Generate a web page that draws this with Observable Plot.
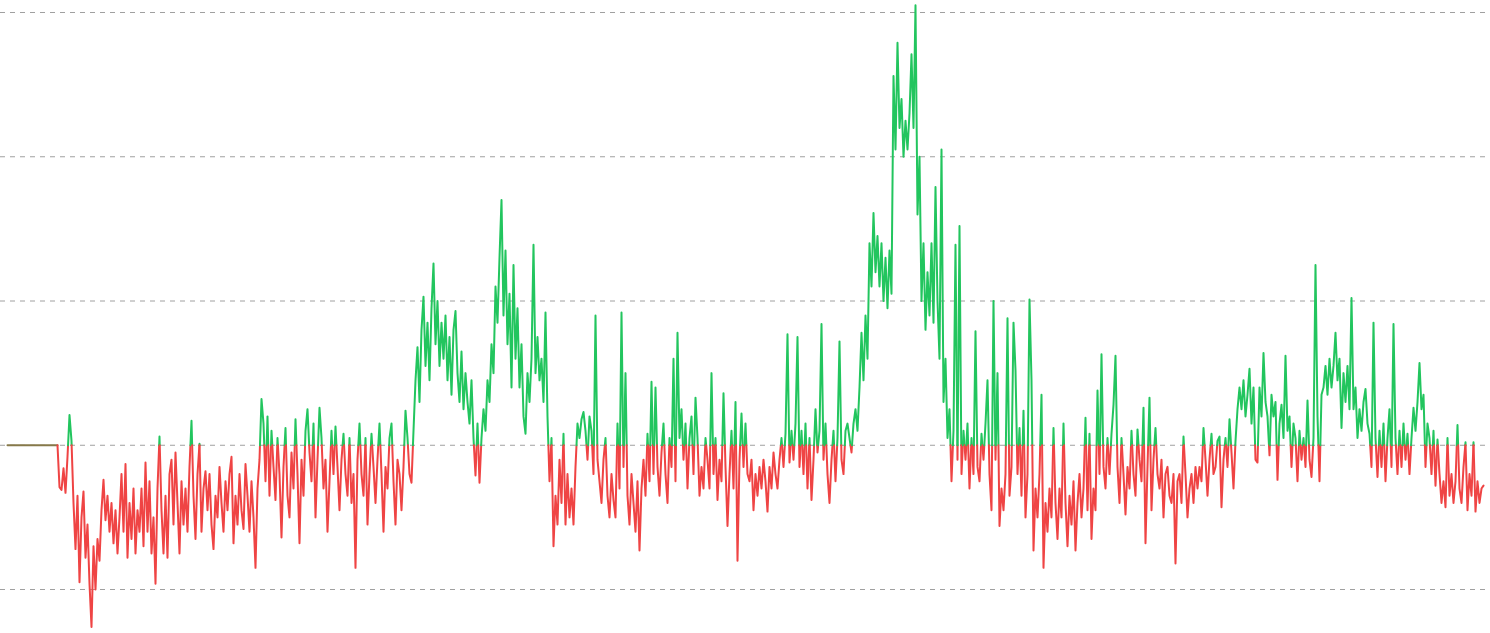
<!DOCTYPE html>
<html>
<head>
<meta charset="utf-8">
<script src="https://cdn.jsdelivr.net/npm/d3@7"></script>
<script src="https://cdn.jsdelivr.net/npm/@observablehq/plot@0.6"></script>
<style>
  html, body { margin: 0; padding: 0; background: #ffffff; }
  #chart svg { display: block; }
</style>
</head>
<body>
<div id="chart"></div>
<script>
// Series values (deviation from the zero baseline; grid step = 10)
const values = [
  // flat start
  0, 0, 0, 0, 0, 0, 0, 0, 0, 0, 0, 0, 0, 0, 0, 0, 0, 0, 0, 0, 0, 0, 0, 0, 0, 0,
  // 59 ..
  -2.9, -3.1, -1.6, -3.3, -0.8, 2.1, 0.3, -4.0, -7.2, -3.5,
  -9.5, -5.0, -3.2, -7.8, -5.5, -9.6, -12.6, -7.0, -10.0, -6.5,
  -8.0, -4.5, -2.4, -5.2, -3.5, -6.0, -4.0, -6.8, -4.5, -7.5,
  -5.0, -2.0, -6.0, -1.3, -7.8, -4.0, -6.5, -3.0, -7.5, -4.5,
  -6.0, -3.0, -7.0, -1.2, -6.0, -2.5, -7.5, -5.0, -9.6, -3.0,
  0.6, -4.5, -7.5, -3.5, -7.8, -2.0, -1.0, -5.5, -0.5, -4.0,
  -7.5, -2.5, -5.5, -3.0, -6.0, -1.5, 1.7, -3.5, -6.5, -2.0,
  0.1, -6.0, -3.0, -1.8, -4.5, -2.0, -5.5, -7.2, -3.5, -5.0,
  -1.5, -4.0, -6.0, -2.5, -4.5, -2.0, -0.8, -6.8, -3.5, -5.5,
  -2.0, -4.5, -5.8, -1.3, -3.5, -6.0, -2.5, -5.0, -8.5, -3.0,
  // 259 ..
  -1.0, 3.2, 1.5, -2.5, 2.0, -3.5, 1.0, -1.5, -3.8, 0.5,
  -2.0, -6.4, -1.5, 1.2, -3.5, -5.0, -0.5, -3.0, 1.8, -2.0,
  -6.8, -1.0, -3.5, 1.0, 2.5, -0.5, -2.5, 1.5, -5.0, -1.0,
  2.6, 0.5, -3.0, -1.0, -6.0, -2.5, 1.0, -2.0, 1.3, -1.5,
  -4.5, -1.0, 0.8, -2.0, -3.5, 0.5, -4.0, -2.0, -8.5, -1.0,
  1.5, -2.0, -3.5, 0.5, -5.5, -2.0, 0.8, -1.5, -4.0, -1.0,
  1.5, -2.0, -6.0, -1.5, -3.0, 0.5, 1.5, -2.5, -5.5, -1.0,
  -2.0, -4.5, -1.5, 2.4, 0.5, -2.0, -2.6, 1.0, 4.5, 6.8,
  // 419 ..
  3.0, 8.0, 10.3, 5.5, 8.5, 4.5, 9.5, 12.6, 7.0, 10.0,
  5.5, 8.5, 6.0, 9.0, 4.5, 7.5, 3.5, 8.0, 9.3, 5.0,
  3.0, 6.5, 2.5, 5.0, 3.0, 1.5, 4.5, 0.5, -2.1, 1.5,
  -2.6, 0.5, 2.5, 1.0, 4.5, 3.0, 7.0, 5.0, 11.0, 8.5,
  13.0, 17.0, 9.0, 13.5, 7.0, 10.5, 4.0, 12.5, 6.0, 9.5,
  4.0, 7.0, 2.0, 0.8, 5.0, 3.0, 6.0, 13.9, 5.0, 7.5,
  4.5, 6.0, 3.0, 9.2, 2.0, -2.5, 0.5, -7.0, -3.5, -5.5,
  -1.0, -4.0, 0.8, -5.5, -2.0, -5.0, -3.0, -5.5, -1.5, 1.5,
  // 579 ..
  0.5, 1.8, 2.3, 1.0, -1.0, 2.0, 1.0, -2.0, 9.0, -1.0,
  -2.5, -4.0, -1.0, 0.5, -3.5, -5.0, -2.0, -3.8, -5.0, 1.5,
  -3.0, 9.2, -1.5, 5.0, -3.5, -5.5, -2.0, -4.0, -6.0, -2.5,
  -7.3, -3.0, -1.0, -3.5, 0.8, -2.5, 4.4, -2.0, 4.0, -1.5,
  -3.5, -0.5, 1.5, -2.0, -4.0, 0.5, -1.5, 6.0, -2.5, 7.8,
  0.5, 2.5, -1.0, 1.5, -3.0, 0.5, 2.0, -2.0, 3.3, 0.5,
  -3.5, -1.5, -3.0, 0.5, -1.0, -3.0, 5.0, -2.0, 0.5, -3.8,
  -1.0, -2.5, 3.6, -1.5, -5.6, -2.0, 1.0, -3.0, 3.0, -8.0,
  // 739 ..
  -1.0, 2.2, -1.5, 1.5, -2.0, -2.5, -1.0, -4.5, -2.0, -3.5,
  -1.5, -3.0, -1.0, -2.5, -4.6, -1.5, -3.0, -0.5, -2.0, -3.0,
  -1.0, 0.5, -1.5, 0.8, 7.7, -1.2, 1.0, -1.0, 1.5, 7.5,
  -1.5, 1.0, -2.0, 1.5, -3.0, 0.5, -3.8, -1.0, 2.5, -0.5,
  1.0, 8.4, -1.0, 1.5, -2.0, -4.0, -1.0, 1.0, -2.5, 0.5,
  7.2, -1.0, -2.0, 1.0, 1.5, 0.5, -0.5, 1.5, 2.5, 1.0,
  4.0, 7.8, 4.5, 9.0, 6.0, 14.0, 11.0, 16.1, 12.0, 14.5,
  11.0, 14.0, 10.0, 13.0, 9.5, 13.5, 10.5, 25.6, 20.5, 27.9,
  // 899 ..
  22.0, 24.0, 20.0, 22.5, 20.5, 23.0, 27.1, 22.0, 30.5, 16.0,
  20.0, 10.0, 14.0, 8.0, 12.0, 9.0, 14.0, 8.5, 17.9, 10.0,
  6.0, 20.5, 3.0, 6.0, 0.5, 2.5, -2.5, 1.0, 13.9, -1.0,
  15.2, -2.0, 1.0, -1.0, 1.5, -3.0, 0.5, -2.0, 7.9, -1.5,
  -2.5, 0.8, -1.0, 1.5, 4.5, -2.0, -4.5, 10.0, -1.0, 5.0,
  -5.6, -3.0, -4.5, -2.0, 8.8, -3.5, -1.5, 8.5, 5.2, -2.0,
  1.2, -3.5, 2.4, -5.0, -2.0, 10.1, 4.5, -7.3, -3.0, -5.0,
  -2.0, 3.5, -8.5, -4.0, -6.0, -3.0, -5.0, 1.2, -4.0, -6.5,
  // 1059 ..
  -3.0, -5.0, 1.5, -4.0, -7.0, -3.5, -5.5, -2.5, -7.3, -4.0,
  -2.0, -5.0, -3.0, 1.9, -4.5, 0.8, -6.5, -3.0, -4.5, 3.8,
  -2.0, 6.3, -1.5, -3.0, 0.5, -2.0, 0.8, 2.8, 6.2, -1.5,
  -4.0, 0.5, -2.0, -4.8, -1.5, -3.0, 1.0, -2.0, -3.5, 1.1,
  -1.0, -2.5, 2.6, -6.8, -1.5, 3.3, -4.5, -1.0, 1.2, -2.0,
  -3.0, -1.0, -5.0, -2.0, -1.5, -3.5, -4.0, -2.0, -8.2, -2.5,
  -2.0, -4.0, 0.6, -2.0, -5.0, -3.0, -2.0, -4.0, -1.5, -3.0,
  -1.5, -2.5, 1.2, -1.0, -3.5, -1.0, 0.8, -2.0, -1.5, 0.3,
  // 1219 ..
  0.6, -4.3, -1.0, 0.5, -1.5, 1.8, -0.5, -3.0, 0.3, 2.5,
  4.0, 2.5, 4.5, 2.0, 3.5, 5.3, 1.5, 4.0, -1.0, -1.2,
  4.0, 2.0, 6.4, 3.0, 2.0, -0.7, 3.5, 2.0, 3.0, -2.4,
  1.5, 2.8, 0.5, 6.2, 1.0, 2.0, -1.5, 1.5, 0.5, -2.5,
  1.0, -1.0, 0.5, -1.5, 3.1, -1.0, -2.2, 0.5, 12.5, 2.0,
  -2.5, 3.5, 4.0, 5.5, 3.5, 6.0, 4.0, 5.5, 7.8, 4.5,
  6.0, 1.2, 5.0, 3.0, 5.5, 2.5, 10.2, 2.5, 4.0, 0.5,
  2.5, 1.0, 3.0, 3.9, 1.5, 0.8, -1.5, 8.5, 0.5, -2.2,
  // 1379 ..
  1.0, -1.5, 1.5, -2.5, 0.5, 2.5, -1.5, 8.4, 0.5, -2.0,
  1.0, -1.5, 1.5, -1.0, 0.8, -2.0, 0.5, 2.6, 1.0, 3.0,
  5.7, 2.5, 3.5, -1.5, 1.5, 0.5, -2.0, 1.0, -2.8, 0.4,
  -2.0, -4.0, -2.5, -4.3, 0.5, -3.5, -2.0, -4.0, -2.5, 1.4,
  -3.0, -4.0, -1.5, 0.2, -4.5, -2.0, -3.5, 0.2, -4.6, -2.5,
  -4.0, -3.0, -2.8
];

// Horizontal grid values
const gridTicks = [-10, 0, 10, 20, 30];

// Colour classes
const classes = ["pos", "neg", "zero"];
const classColors = ["#22c55e", "#ef4444", "#86794a"];

// Split the series at zero crossings into same-colour runs
const pts = [];
let run = -1, cur = null;
function addSeg(x0, y0, x1, y1, c) {
  if (c !== cur) { run++; cur = c; pts.push({x: x0, y: y0, run, c}); }
  pts.push({x: x1, y: y1, run, c});
}
for (let i = 0; i < values.length - 1; i++) {
  const a = values[i], b = values[i + 1];
  if (a * b < 0) {
    const xm = i + a / (a - b);
    addSeg(i, a, xm, 0, a > 0 ? "pos" : "neg");
    addSeg(xm, 0, i + 1, b, b > 0 ? "pos" : "neg");
  } else {
    const c = (a === 0 && b === 0) ? "zero" : (a + b > 0 ? "pos" : "neg");
    addSeg(i, a, i + 1, b, c);
  }
}

const N = values.length;
const W = 1490, left = 0, right = 4;
const plotW = W - left - right;
const s = (N - 1) / (1483 - 7);
const xDomain = [-7 * s, (N - 1) + (plotW - 1483) * s];

const chart = Plot.plot({
  width: W,
  height: 633,
  marginTop: 12,
  marginBottom: 44,
  marginLeft: left,
  marginRight: right,
  x: {domain: xDomain, axis: null},
  y: {domain: [-10, 30], axis: null},
  color: {domain: classes, range: classColors},
  marks: [
    Plot.ruleY(gridTicks, {stroke: "#a0a0a0", strokeWidth: 1, strokeDasharray: "5,5"}),
    Plot.line(pts, {x: "x", y: "y", z: "run", stroke: "c", strokeWidth: 2, strokeLinejoin: "round", curve: "linear"})
  ]
});
document.getElementById("chart").appendChild(chart);
</script>
</body>
</html>
